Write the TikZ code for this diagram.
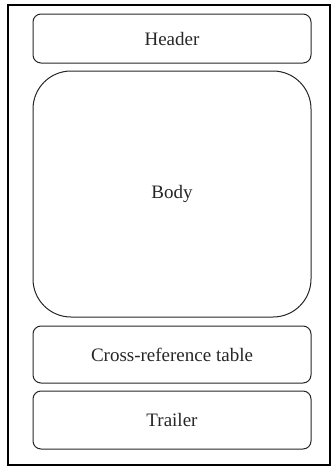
\documentclass[tikz,border=0pt]{standalone}
\usepackage{fontspec}
\setmainfont{Liberation Serif}
\begin{document}
\begin{tikzpicture}[x=1pt,y=-1pt]
                    \tikzstyle{part}=[draw=black!85, line width=1pt, rectangle, rounded corners=8pt, minimum width=278pt, inner sep=0pt, text=black!85, font=\fontsize{19}{22}\selectfont]
                    \tikzstyle{frame}=[draw=black, line width=1.3pt]
                    \useasboundingbox (0,0) rectangle (331,466);
                    \draw[frame] (8,5) rectangle (330,465);
                    \node[part, minimum height=49pt] (header) at (172,38.5) {Header};
                    \node[part, minimum height=246pt, rounded corners=38pt] (body) at (172,194) {Body};
                    \node[part, minimum height=57pt] (xref) at (172,354.5) {Cross-reference table};
                    \node[part, minimum height=58pt] (trailer) at (172,420) {Trailer};
                \end{tikzpicture}
\end{document}
